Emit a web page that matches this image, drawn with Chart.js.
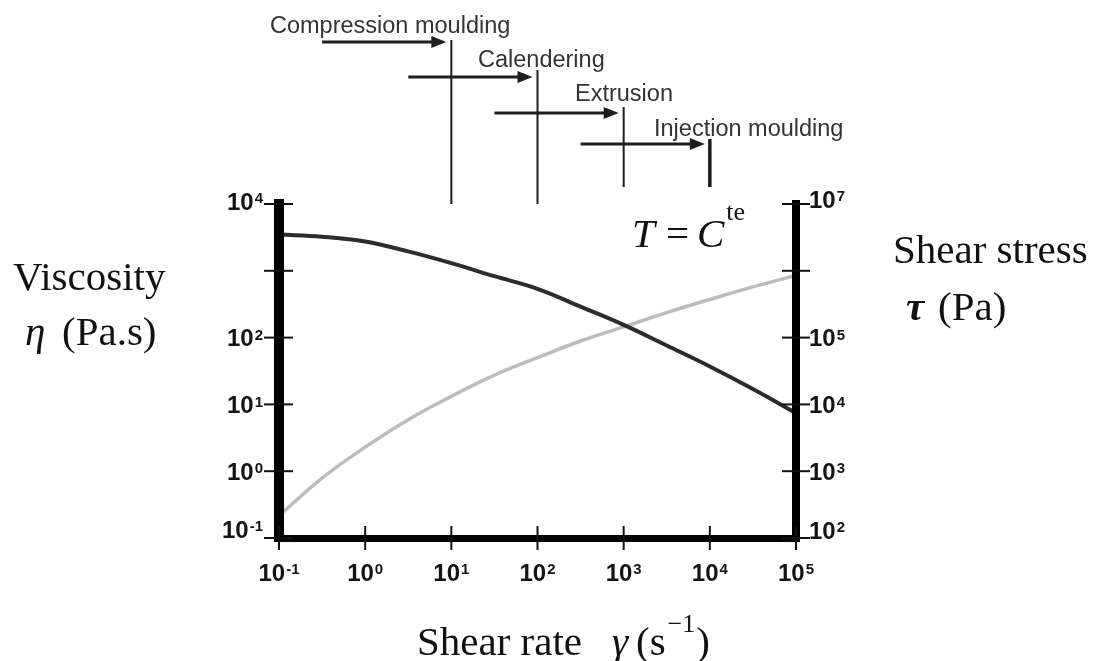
<!DOCTYPE html>
<html>
<head>
<meta charset="utf-8">
<script src="https://cdn.jsdelivr.net/npm/chart.js@4.4.1/dist/chart.umd.min.js"></script>
<style>
  html, body { margin: 0; padding: 0; background: #fff; }
</style>
</head>
<body>
<canvas id="grafico" width="1106" height="661"></canvas>
<script>
// valores (taxa de cisalhamento em s^-1, meias decadas)
const shearRate = [0.1, 0.316, 1, 3.16, 10, 31.6, 100, 316, 1000, 3160, 10000, 31600, 100000];
const viscosity = [3500, 3240, 2750, 1950, 1300, 830, 537, 290, 155, 76, 37, 17, 7.4];
const shearStress = [214, 790, 2290, 5900, 13200, 27500, 50000, 89000, 145000, 237000, 372000, 575000, 850000];

const xTicks = [0.1, 1, 10, 100, 1000, 10000, 100000];
const xTickExp = ['-1', '0', '1', '2', '3', '4', '5'];
const leftTicks = [0.1, 1, 10, 100, 1000, 10000];
const leftTickExp = ['-1', '0', '1', '2', null, '4'];
const rightTicks = [100, 1000, 10000, 100000, 1000000, 10000000];
const rightTickExp = ['2', '3', '4', '5', null, '7'];

const processos = ['Compression moulding', 'Calendering', 'Extrusion', 'Injection moulding'];
const processoTaxa = [10, 100, 1000, 10000];

const SANS = '"Liberation Sans", Arial, sans-serif';
const SERIF = '"Liberation Serif", "Times New Roman", serif';

function linha(ctx, x1, y1, x2, y2) {
  ctx.beginPath();
  ctx.moveTo(x1, y1);
  ctx.lineTo(x2, y2);
  ctx.stroke();
}

// "10" com expoente sobrescrito, centrado verticalmente em y
function potencia(ctx, x, y, exp, align) {
  const tam = 24, tamExp = 15;
  ctx.font = `bold ${tam}px ${SANS}`;
  const wb = ctx.measureText('10').width;
  ctx.font = `bold ${tamExp}px ${SANS}`;
  const we = ctx.measureText(exp).width + 1;
  const total = wb + we;
  let x0 = x;
  if (align === 'right') x0 = x - total;
  if (align === 'center') x0 = x - total / 2;
  const topo = y - 0.36 * tam;
  ctx.textAlign = 'left';
  ctx.textBaseline = 'alphabetic';
  ctx.font = `bold ${tam}px ${SANS}`;
  ctx.fillText('10', x0, y + 0.36 * tam);
  ctx.font = `bold ${tamExp}px ${SANS}`;
  ctx.fillText(exp, x0 + wb + 1, topo + 0.72 * tamExp);
}

function texto(ctx, str, x, y, font) {
  ctx.font = font;
  ctx.fillText(str, x, y);
  return x + ctx.measureText(str).width;
}

const decoracao = {
  id: 'decoracao',
  afterDraw(chart) {
    const ctx = chart.ctx;
    const area = chart.chartArea;
    const sx = chart.scales.x, sy = chart.scales.y, sy2 = chart.scales.y2;
    ctx.save();

    // marcas das escalas, atravessando os eixos
    ctx.strokeStyle = '#111';
    ctx.lineWidth = 2;
    xTicks.forEach(v => {
      const px = sx.getPixelForValue(v);
      linha(ctx, px, area.bottom - 12, px, area.bottom + 12);
    });
    leftTicks.forEach(v => {
      const py = sy.getPixelForValue(v);
      linha(ctx, area.left - 15, py, area.left + 14, py);
    });
    rightTicks.forEach(v => {
      const py = sy2.getPixelForValue(v);
      linha(ctx, area.right - 14, py, area.right + 14, py);
    });

    // rotulos das escalas
    ctx.fillStyle = '#141414';
    xTicks.forEach((v, i) => {
      potencia(ctx, sx.getPixelForValue(v), 572, xTickExp[i], 'center');
    });
    leftTicks.forEach((v, i) => {
      if (leftTickExp[i] === null) return;
      let py = sy.getPixelForValue(v);
      if (i === 0) py -= 9;
      if (i === leftTicks.length - 1) py -= 3;
      potencia(ctx, area.left - 16, py, leftTickExp[i], 'right');
    });
    rightTicks.forEach((v, i) => {
      if (rightTickExp[i] === null) return;
      let py = sy2.getPixelForValue(v);
      if (i === 0) py -= 8;
      if (i === rightTicks.length - 1) py -= 5;
      potencia(ctx, area.right + 13, py, rightTickExp[i], 'left');
    });

    // processos no topo: setas e linhas verticais
    const layout = [
      { tx: 270, ty: 33, ay: 42, top: 40, bottom: area.top, w: 2 },
      { tx: 478, ty: 67, ay: 77, top: 70, bottom: area.top, w: 2 },
      { tx: 575, ty: 101, ay: 113, top: 107, bottom: 187, w: 2 },
      { tx: 654, ty: 136, ay: 144, top: 139, bottom: 187, w: 3.5 }
    ];
    processos.forEach((nome, i) => {
      const L = layout[i];
      const px = sx.getPixelForValue(processoTaxa[i]);
      const inicio = sx.getPixelForValue(processoTaxa[i] / 31.6);
      ctx.strokeStyle = '#1e1e1e';
      ctx.fillStyle = '#1e1e1e';
      ctx.lineWidth = L.w;
      linha(ctx, px, L.top, px, L.bottom);
      ctx.lineWidth = 3;
      const fim = px - 5;
      linha(ctx, inicio, L.ay, fim - 12, L.ay);
      ctx.beginPath();
      ctx.moveTo(fim, L.ay);
      ctx.lineTo(fim - 15, L.ay - 6);
      ctx.lineTo(fim - 15, L.ay + 6);
      ctx.closePath();
      ctx.fill();
      ctx.fillStyle = '#333';
      ctx.textAlign = 'left';
      ctx.textBaseline = 'alphabetic';
      ctx.font = `23.5px ${SANS}`;
      ctx.fillText(nome, L.tx, L.ty);
    });

    // titulos dos eixos (serifados)
    ctx.fillStyle = '#111';
    ctx.textAlign = 'left';
    ctx.textBaseline = 'alphabetic';
    const f = `41px ${SERIF}`, fi = `italic 41px ${SERIF}`;
    texto(ctx, 'Viscosity', 13, 290, f);
    texto(ctx, '\u03b7', 25, 345, fi);
    texto(ctx, '(Pa.s)', 62, 345, f);
    texto(ctx, 'Shear stress', 893, 263, f);
    texto(ctx, '\u03c4', 906, 320, `italic bold 41px ${SERIF}`);
    texto(ctx, '(Pa)', 938, 320, f);
    texto(ctx, 'Shear rate', 417, 655, f);
    texto(ctx, '\u03b3', 612, 655, fi);
    let xx = texto(ctx, '(s', 636, 655, f);
    xx = texto(ctx, '\u22121', xx + 2, 632, `26px ${SERIF}`);
    texto(ctx, ')', xx + 1, 655, f);

    // T = C^te
    xx = texto(ctx, 'T', 632, 247, fi);
    texto(ctx, '=', 666, 247, f);
    xx = texto(ctx, 'C', 697, 247, fi);
    texto(ctx, 'te', xx + 2, 220, `26px ${SERIF}`);

    ctx.restore();
  }
};

const ctx = document.getElementById('grafico').getContext('2d');
new Chart(ctx, {
  type: 'scatter',
  data: {
    datasets: [
      {
        label: 'Viscosity',
        data: shearRate.map((x, i) => ({ x, y: viscosity[i] })),
        yAxisID: 'y',
        showLine: true,
        borderColor: '#2c2c2c',
        borderWidth: 4,
        pointRadius: 0,
        tension: 0.4
      },
      {
        label: 'Shear stress',
        data: shearRate.map((x, i) => ({ x, y: shearStress[i] })),
        yAxisID: 'y2',
        showLine: true,
        borderColor: '#bcbcbc',
        borderWidth: 3.5,
        pointRadius: 0,
        tension: 0.4
      }
    ]
  },
  options: {
    responsive: false,
    animation: false,
    devicePixelRatio: 1,
    layout: { padding: { top: 204, left: 0, right: 0, bottom: 0 } },
    plugins: { legend: { display: false }, tooltip: { enabled: false } },
    scales: {
      x: {
        type: 'logarithmic',
        position: 'bottom',
        min: 0.1,
        max: 100000,
        afterBuildTicks: s => { s.ticks = xTicks.map(v => ({ value: v })); },
        afterFit: s => { s.height = 123; },
        ticks: { display: false },
        grid: { display: false, lineWidth: 8 },
        border: { display: true, width: 7, color: '#000', z: 1 }
      },
      y: {
        type: 'logarithmic',
        position: 'left',
        min: 0.1,
        max: 10000,
        afterBuildTicks: s => { s.ticks = leftTicks.map(v => ({ value: v })); },
        afterFit: s => { s.width = 279; },
        ticks: { display: false },
        grid: { display: false, lineWidth: 8 },
        border: { display: true, width: 10, color: '#000', z: 1 }
      },
      y2: {
        type: 'logarithmic',
        position: 'right',
        min: 100,
        max: 10000000,
        afterBuildTicks: s => { s.ticks = rightTicks.map(v => ({ value: v })); },
        afterFit: s => { s.width = 310; },
        ticks: { display: false },
        grid: { display: false, lineWidth: 8 },
        border: { display: true, width: 8, color: '#000', z: 1 }
      }
    }
  },
  plugins: [decoracao]
});
</script>
</body>
</html>
